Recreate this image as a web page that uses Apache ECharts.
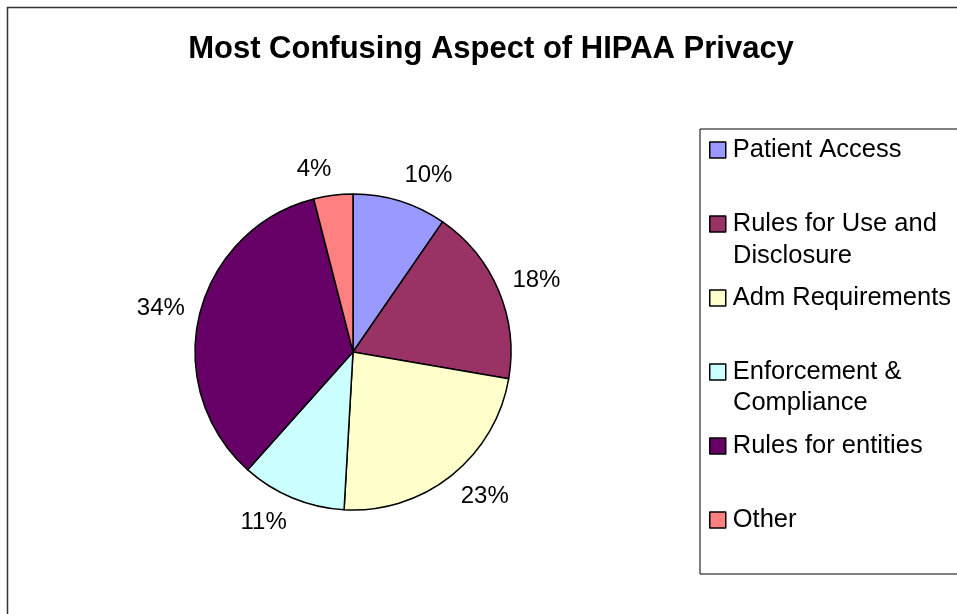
<!DOCTYPE html>
<html>
<head>
<meta charset="utf-8">
<script src="https://cdn.jsdelivr.net/npm/echarts@6/dist/echarts.min.js"></script>
<style>
  html, body { margin: 0; padding: 0; background: #fff; }
  #chart { width: 957px; height: 614px; }
</style>
</head>
<body>
<div id="chart"></div>
<script>
// slices, clockwise from 12 o'clock (percent; labels are rounded)
const categories = ['Patient Access', 'Rules for Use and Disclosure', 'Adm Requirements',
  'Enforcement & Compliance', 'Rules for entities', 'Other'];
const shares = [9.6, 18.1, 23.2, 10.7, 34.4, 4.0];
const sliceColors = ['#9999FF', '#993366', '#FFFFCC', '#CCFFFF', '#660066', '#FF8080'];
// legend text: first line goes in the legend, the rest below it
const legendFirstLine = {
  'Rules for Use and Disclosure': 'Rules for Use and',
  'Enforcement & Compliance': 'Enforcement &'
};

const font = 'Liberation Sans, Arial, sans-serif';
const pieCenter = [353, 352];
const chart = echarts.init(document.getElementById('chart'));

const pieData = categories.map((name, i) => ({
  name: name,
  value: shares[i],
  itemStyle: { color: sliceColors[i] }
}));

const option = {
  animation: false,
  title: {
    text: 'Most Confusing Aspect of HIPAA Privacy',
    left: 486,
    top: 29,
    textAlign: 'center',
    textStyle: { fontFamily: font, fontSize: 31, fontWeight: 'bold', color: '#000' }
  },
  legend: {
    orient: 'vertical',
    left: 700,
    top: 129,
    padding: [7, 40, 40, 9],
    itemWidth: 16,
    itemHeight: 16,
    itemGap: 46,
    icon: 'rect',
    borderColor: '#000',
    borderWidth: 1,
    selectedMode: false,
    itemStyle: { borderColor: '#000', borderWidth: 1.5 },
    data: categories,
    formatter: name => legendFirstLine[name] || name,
    textStyle: { fontFamily: font, fontSize: 25.5, lineHeight: 28, color: '#000', padding: [0, 0, 0, 2] }
  },
  graphic: [
    { type: 'rect', silent: true, shape: { x: 7.5, y: 7.5, width: 1000, height: 1000 },
      style: { fill: 'none', stroke: '#333', lineWidth: 1.5 } },
    { type: 'text', left: 733, top: 243, silent: true,
      style: { text: 'Disclosure', font: '25.5px ' + font, fill: '#000' } },
    { type: 'text', left: 733, top: 390, silent: true,
      style: { text: 'Compliance', font: '25.5px ' + font, fill: '#000' } }
  ],
  series: [
    {
      type: 'pie',
      center: pieCenter,
      radius: [0, 158],
      startAngle: 90,
      clockwise: true,
      avoidLabelOverlap: false,
      label: {
        show: true,
        position: 'outside',
        alignTo: 'none',
        distanceToLabelLine: 0,
        formatter: p => Math.round(p.value) + '%',
        fontFamily: font,
        fontSize: 24,
        color: '#000'
      },
      labelLine: { show: false, length: 15, length2: 0 },
      // push labels above/below the pie further out, like Excel does
      labelLayout: p => {
        const midY = p.labelRect.y + p.labelRect.height / 2;
        return { dy: (midY - pieCenter[1]) / 180 * 12 };
      },
      itemStyle: { borderColor: '#000', borderWidth: 1.5 },
      emphasis: { disabled: true },
      data: pieData
    }
  ]
};

chart.setOption(option);
</script>
</body>
</html>
